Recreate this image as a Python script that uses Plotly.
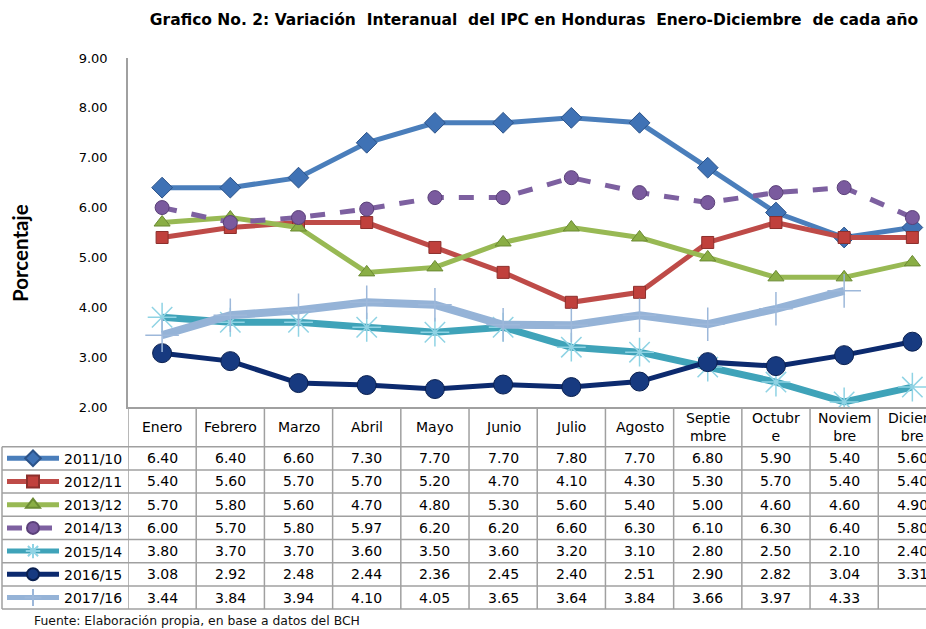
import plotly.graph_objects as go

# ---------------- data ----------------
months = ["Enero", "Febrero", "Marzo", "Abril", "Mayo", "Junio", "Julio",
          "Agosto", "Septiembre", "Octubre", "Noviembre", "Diciembre"]
header_labels = ["Enero", "Febrero", "Marzo", "Abril", "Mayo", "Junio", "Julio",
                 "Agosto", "Septie<br>mbre", "Octubr<br>e", "Noviem<br>bre", "Diciem<br>bre"]
series_names = ["2011/10", "2012/11", "2013/12", "2014/13", "2015/14", "2016/15", "2017/16"]
s2011 = [6.40, 6.40, 6.60, 7.30, 7.70, 7.70, 7.80, 7.70, 6.80, 5.90, 5.40, 5.60]
s2012 = [5.40, 5.60, 5.70, 5.70, 5.20, 4.70, 4.10, 4.30, 5.30, 5.70, 5.40, 5.40]
s2013 = [5.70, 5.80, 5.60, 4.70, 4.80, 5.30, 5.60, 5.40, 5.00, 4.60, 4.60, 4.90]
s2014 = [6.00, 5.70, 5.80, 5.97, 6.20, 6.20, 6.60, 6.30, 6.10, 6.30, 6.40, 5.80]
s2015 = [3.80, 3.70, 3.70, 3.60, 3.50, 3.60, 3.20, 3.10, 2.80, 2.50, 2.10, 2.40]
s2016 = [3.08, 2.92, 2.48, 2.44, 2.36, 2.45, 2.40, 2.51, 2.90, 2.82, 3.04, 3.31]
s2017 = [3.44, 3.84, 3.94, 4.10, 4.05, 3.65, 3.64, 3.84, 3.66, 3.97, 4.33, None]
y_ticks = [2, 3, 4, 5, 6, 7, 8, 9]

title_text = "Grafico No. 2: Variación  Interanual  del IPC en Honduras  Enero-Diciembre  de cada año"
y_title = "Porcentaje"
footer_text = "Fuente: Elaboración propia, en base a datos del BCH"

all_series = [s2011, s2012, s2013, s2014, s2015, s2016, s2017]

# ---------------- styles ----------------
styles = [
    dict(line=dict(color="#4a7ebb", width=5),
         marker=dict(symbol="diamond", size=16, color="#3f72b5", line=dict(color="#2b5288", width=1))),
    dict(line=dict(color="#be4b48", width=5),
         marker=dict(symbol="square", size=12, color="#c0403c", line=dict(color="#8c2f2c", width=1))),
    dict(line=dict(color="#98b954", width=5),
         marker=dict(symbol="triangle-up", size=14, color="#8aae45", line=dict(color="#6b8a33", width=1))),
    dict(line=dict(color="#7d60a0", width=5, dash="dash"),
         marker=dict(symbol="circle", size=14, color="#7a5a9e", line=dict(color="#5a4078", width=1))),
    dict(line=dict(color="#3fa3b9", width=7),
         marker=dict(symbol="asterisk-open", size=24, color="#8fd3e4", line=dict(color="#8fd3e4", width=1.5))),
    dict(line=dict(color="#0c2a6e", width=5),
         marker=dict(symbol="circle", size=19, color="#173a80", line=dict(color="#0a2050", width=1))),
    dict(line=dict(color="#95b3d7", width=8),
         marker=dict(symbol="cross-thin-open", size=24, color="#9db8da", line=dict(color="#9db8da", width=1.5))),
]

W, H = 926, 629
PLOT_LEFT, PLOT_TOP, PLOT_BOTTOM = 128, 58, 407
PLOT_H = PLOT_BOTTOM - PLOT_TOP
PLOT_W = W - PLOT_LEFT
ROW_TOP = 446.7
ROW_H = 23.2
TABLE_LEFT = 2
GRID = "#a0a0a0"
FONT = "DejaVu Sans"


def py(px):
    return (PLOT_BOTTOM - px) / PLOT_H


def pxp(px):
    return (px - PLOT_LEFT) / PLOT_W


fig = go.Figure()
for k, (name, vals, st) in enumerate(zip(series_names, all_series, styles)):
    fig.add_trace(go.Scatter(
        x=months, y=vals, name=name, mode="lines+markers",
        line=st["line"], marker=st["marker"], connectgaps=False,
        legend="legend" if k == 0 else f"legend{k + 1}",
    ))

shapes = []
annotations = []

# header labels
for m, lab in zip(months, header_labels):
    annotations.append(dict(x=m, xref="x", y=py((PLOT_BOTTOM + ROW_TOP) / 2), yref="paper",
                            text=lab, showarrow=False, xanchor="center", yanchor="middle",
                            font=dict(family=FONT, size=14, color="#000")))

# values
for k, vals in enumerate(all_series):
    yc = py(ROW_TOP + ROW_H * (k + 0.5))
    for m, v in zip(months, vals):
        if v is None:
            continue
        annotations.append(dict(x=m, xref="x", y=yc, yref="paper", text=f"{v:.2f}",
                                showarrow=False, xanchor="center", yanchor="middle",
                                font=dict(family=FONT, size=14, color="#000")))

# table lines
n_rows = len(all_series)
for k in range(n_rows + 1):
    yy = py(ROW_TOP + ROW_H * k)
    shapes.append(dict(type="line", xref="paper", yref="paper", x0=pxp(TABLE_LEFT), x1=1.0,
                       y0=yy, y1=yy, line=dict(color=GRID, width=1.5)))
y_tab_bottom = py(ROW_TOP + ROW_H * n_rows)
shapes.append(dict(type="line", xref="paper", yref="paper", x0=pxp(TABLE_LEFT), x1=pxp(TABLE_LEFT),
                   y0=py(ROW_TOP), y1=y_tab_bottom, line=dict(color=GRID, width=1.5)))
for i in range(len(months) + 1):
    shapes.append(dict(type="line", xref="x", yref="paper", x0=i - 0.5, x1=i - 0.5,
                       y0=0, y1=y_tab_bottom, line=dict(color=GRID, width=1.5)))

# legends, one per row
legend_layout = {}
for k in range(n_rows):
    key = "legend" if k == 0 else f"legend{k + 1}"
    row_c = ROW_TOP + ROW_H * (k + 0.5)
    legend_layout[key] = dict(x=pxp(TABLE_LEFT), xanchor="left", y=py(row_c - 15.6), yanchor="top",
                              bgcolor="rgba(0,0,0,0)", borderwidth=0, itemwidth=52,
                              itemsizing="constant",
                              font=dict(family=FONT, size=14, color="#000"))

# y title
annotations.append(dict(x=pxp(20), xref="paper", y=py(253), yref="paper", text=f"<b>{y_title}</b>",
                        textangle=-90, showarrow=False, xanchor="center", yanchor="middle",
                        font=dict(family="Lato", size=20.5, color="#000")))
# footer
annotations.append(dict(x=pxp(32), xref="paper", y=py(620.5), yref="paper", text=footer_text,
                        showarrow=False, xanchor="left", yanchor="middle",
                        font=dict(family=FONT, size=12.4, color="#111")))

fig.update_layout(
    width=W, height=H, autosize=False,
    margin=dict(l=PLOT_LEFT, r=W - PLOT_LEFT - PLOT_W, t=PLOT_TOP, b=H - PLOT_BOTTOM, pad=0),
    paper_bgcolor="white", plot_bgcolor="white",
    title=dict(text=f"<b>{title_text}</b>", x=534 / W, xanchor="center", xref="container",
               y=1 - 20 / H, yanchor="middle", font=dict(family=FONT, size=15.5, color="#000")),
    xaxis=dict(type="category", range=[-0.5, 11.2], showticklabels=False, ticks="",
               showline=True, linecolor=GRID, linewidth=1.5, showgrid=False, zeroline=False),
    yaxis=dict(range=[2, 9], tickvals=y_ticks, tickformat=".2f", showline=True, linecolor=GRID,
               linewidth=1.5, showgrid=False, zeroline=False, ticks="", ticklabelstandoff=16,
               tickfont=dict(family=FONT, size=13, color="#000")),
    shapes=shapes, annotations=annotations,
    showlegend=True,
    **legend_layout,
)

fig.write_html("out.html", config={"displayModeBar": False},
               post_script="document.body.style.margin='0';document.body.style.overflow='hidden';")
